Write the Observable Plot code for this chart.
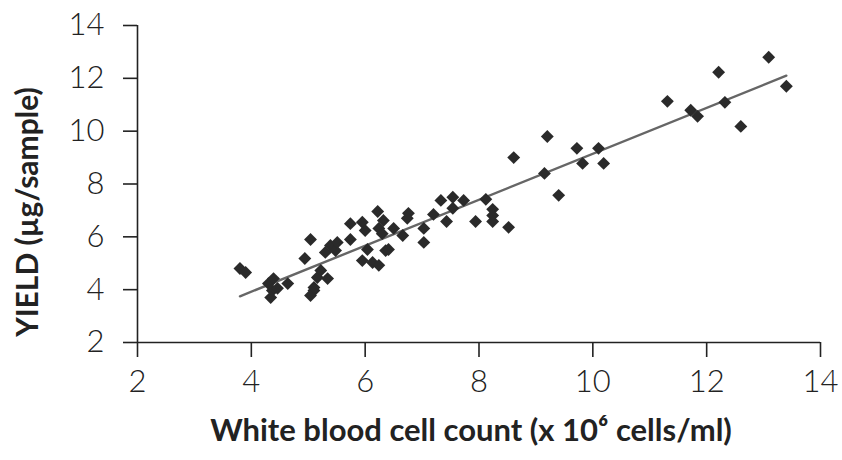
<!DOCTYPE html>
<html>
<head>
<meta charset="utf-8">
<script src="https://cdn.jsdelivr.net/npm/d3@7"></script>
<script src="https://cdn.jsdelivr.net/npm/@observablehq/plot@0.6"></script>
<style>
  html, body { margin: 0; padding: 0; background: #ffffff; }
  #chart { width: 842px; height: 460px; }
</style>
</head>
<body>
<div id="chart"></div>
<script>
// White blood cell count (x 10^6 cells/ml)
const wbc = [3.8, 3.9, 4.3, 4.39, 4.37, 4.34, 4.46, 4.64, 4.94, 5.1, 5.04, 5.1, 5.16, 5.34, 5.22,
  5.04, 5.3, 5.39, 5.48, 5.51, 5.74, 5.74, 5.95, 6.0, 6.24, 6.3, 6.04, 5.95, 6.13, 6.24, 6.36,
  6.22, 6.32, 6.5, 6.66, 6.41, 6.76, 6.74, 7.03, 7.03, 7.2, 7.33, 7.54, 7.73, 7.54, 7.43, 7.94,
  8.12, 8.24, 8.24, 8.24, 8.52, 8.61, 9.15, 9.2, 9.4, 9.72, 9.82, 10.1, 10.19, 11.31, 11.72,
  11.84, 12.21, 12.32, 12.6, 13.09, 13.4];
// Yield (µg/sample)
const yieldUg = [4.8, 4.65, 4.23, 4.42, 3.97, 3.7, 4.05, 4.23, 5.18, 3.97, 3.78, 4.08, 4.46, 4.42, 4.73,
  5.9, 5.41, 5.67, 5.48, 5.79, 5.9, 6.5, 6.55, 6.24, 6.32, 6.12, 5.52, 5.1, 5.03, 4.92, 5.48,
  6.96, 6.62, 6.32, 6.05, 5.52, 6.89, 6.7, 5.79, 6.32, 6.85, 7.38, 7.5, 7.38, 7.08, 6.58, 6.58,
  7.42, 7.04, 6.81, 6.58, 6.36, 9.0, 8.4, 9.8, 7.57, 9.35, 8.78, 9.35, 8.78, 11.13, 10.79,
  10.56, 12.23, 11.09, 10.18, 12.8, 11.7];
// Fitted trend line end points
const fitX = [3.8, 13.4];
const fitY = [3.75, 12.1];
const xTicks = [2, 4, 6, 8, 10, 12, 14];
const yTicks = [2, 4, 6, 8, 10, 12, 14];
const xTitle = "White blood cell count (x 10\u2076 cells/ml)";
const yTitle = "YIELD (\u00b5g/sample)";

const points = wbc.map((x, i) => ({x, y: yieldUg[i]}));
const fit = fitX.map((x, i) => ({x, y: fitY[i]}));

const tickFont = "Lato, 'Open Sans', sans-serif";
const chart = Plot.plot({
  width: 842,
  height: 460,
  marginLeft: 137,
  marginRight: 22,
  marginTop: 25,
  marginBottom: 118,
  style: {background: "#ffffff", color: "#222", fontFamily: tickFont},
  x: {domain: [xTicks[0], xTicks[xTicks.length - 1]]},
  y: {domain: [yTicks[0], yTicks[yTicks.length - 1]]},
  marks: [
    Plot.ruleX([xTicks[0]], {stroke: "#222", strokeWidth: 1.6}),
    Plot.ruleY([yTicks[0]], {stroke: "#222", strokeWidth: 1.6}),
    Plot.axisX({ticks: xTicks, tickSize: 15, tickPadding: 12, tickFormat: d => d, label: null,
      fontSize: 31, fontWeight: 300, stroke: "#222", strokeWidth: 1.6}),
    Plot.axisY({ticks: yTicks, tickSize: 14, tickPadding: 19, tickFormat: d => d, label: null,
      fontSize: 31, fontWeight: 300, stroke: "#222", strokeWidth: 1.6}),
    Plot.line(fit, {x: "x", y: "y", stroke: "#666", strokeWidth: 2.4}),
    Plot.dot(points, {x: "x", y: "y", symbol: "diamond2", r: 5.8, fill: "#2a2a2a", stroke: "none"}),
    Plot.text([yTitle], {frameAnchor: "left", dx: -109, dy: 28, rotate: -90, textAnchor: "middle",
      fontSize: 30, fontWeight: "bold", fill: "#222", fontFamily: tickFont}),
    Plot.text([xTitle], {frameAnchor: "bottom", dx: -8, dy: 98, textAnchor: "middle",
      fontSize: 31, fontWeight: "bold", fill: "#222", fontFamily: tickFont})
  ]
});
document.getElementById("chart").appendChild(chart);
</script>
</body>
</html>
